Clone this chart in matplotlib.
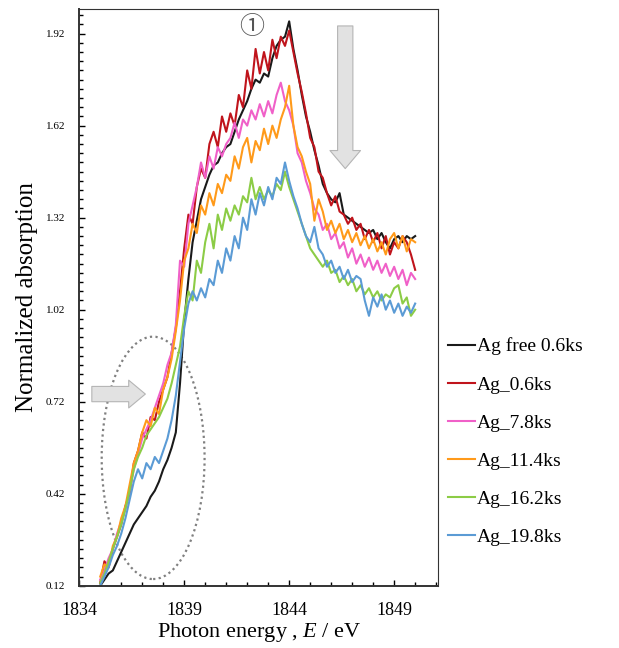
import numpy as np
import matplotlib
matplotlib.use('Agg')
import matplotlib.pyplot as plt
from matplotlib.patches import Ellipse
from matplotlib.ticker import MultipleLocator, FixedLocator

plt.rcParams['font.family'] = ['Liberation Serif', 'DejaVu Serif']
plt.rcParams['mathtext.fontset'] = 'custom'
plt.rcParams['mathtext.it'] = 'Liberation Serif:italic'
plt.rcParams['mathtext.rm'] = 'Liberation Serif'

# photon energy grid (eV), 0.2 eV step
energia = np.linspace(1835.0, 1850.0, 76)

ag_free_06 = [0.12, 0.14, 0.16, 0.17, 0.20, 0.23, 0.26, 0.29, 0.32, 0.34,
              0.36, 0.38, 0.41, 0.43, 0.46, 0.50, 0.53, 0.57, 0.62, 0.78,
              0.98, 1.12, 1.24, 1.31, 1.38, 1.42, 1.46, 1.49, 1.50, 1.53,
              1.55, 1.56, 1.60, 1.64, 1.67, 1.70, 1.74, 1.77, 1.76, 1.79,
              1.78, 1.84, 1.88, 1.90, 1.91, 1.96, 1.87, 1.80, 1.72, 1.65,
              1.60, 1.54, 1.49, 1.43, 1.40, 1.38, 1.37, 1.40, 1.33, 1.32,
              1.31, 1.30, 1.29, 1.28, 1.27, 1.28, 1.25, 1.27, 1.24, 1.22,
              1.25, 1.26, 1.24, 1.26, 1.25, 1.26]

ag_06 = [0.13, 0.20, 0.18, 0.24, 0.28, 0.32, 0.38, 0.42, 0.52, 0.56,
         0.62, 0.60, 0.67, 0.66, 0.72, 0.76, 0.80, 0.88, 0.96, 1.08,
         1.22, 1.33, 1.30, 1.42, 1.48, 1.45, 1.56, 1.60, 1.55, 1.65,
         1.60, 1.66, 1.62, 1.72, 1.68, 1.80, 1.74, 1.87, 1.79, 1.86,
         1.80, 1.90, 1.84, 1.91, 1.88, 1.93, 1.86, 1.79, 1.73, 1.66,
         1.58, 1.55, 1.47, 1.45, 1.40, 1.36, 1.39, 1.34, 1.33, 1.30,
         1.32, 1.28, 1.30, 1.25, 1.28, 1.24, 1.27, 1.22, 1.26, 1.20,
         1.24, 1.22, 1.26, 1.24, 1.20, 1.15]

ag_78 = [0.14, 0.17, 0.21, 0.24, 0.29, 0.33, 0.37, 0.43, 0.50, 0.55,
         0.60, 0.63, 0.66, 0.70, 0.74, 0.78, 0.84, 0.88, 0.97, 1.18,
         1.16, 1.30, 1.36, 1.42, 1.50, 1.45, 1.52, 1.48, 1.55, 1.52,
         1.56, 1.58, 1.63, 1.58, 1.64, 1.62, 1.67, 1.64, 1.69, 1.65,
         1.70, 1.66, 1.72, 1.76, 1.70, 1.67, 1.62, 1.53, 1.50, 1.44,
         1.40, 1.35, 1.33, 1.28, 1.30, 1.25, 1.27, 1.22, 1.24, 1.19,
         1.22, 1.17, 1.20, 1.16, 1.19, 1.15, 1.18, 1.14, 1.17, 1.13,
         1.16, 1.12, 1.15, 1.10, 1.14, 1.12]

ag_114 = [0.15, 0.19, 0.18, 0.25, 0.28, 0.34, 0.38, 0.45, 0.52, 0.56,
          0.62, 0.66, 0.64, 0.70, 0.68, 0.76, 0.80, 0.86, 0.95, 1.05,
          1.18, 1.22, 1.30, 1.27, 1.36, 1.33, 1.40, 1.36, 1.43, 1.40,
          1.46, 1.44, 1.52, 1.48, 1.55, 1.58, 1.50, 1.57, 1.54, 1.61,
          1.56, 1.62, 1.58, 1.64, 1.68, 1.75, 1.62, 1.55, 1.52, 1.47,
          1.43, 1.31, 1.38, 1.34, 1.28, 1.31, 1.27, 1.30, 1.25, 1.28,
          1.24, 1.27, 1.23, 1.26, 1.22, 1.25, 1.21, 1.24, 1.20, 1.25,
          1.27, 1.22, 1.26, 1.21, 1.25, 1.24]

ag_162 = [0.13, 0.16, 0.20, 0.24, 0.28, 0.32, 0.37, 0.43, 0.50, 0.54,
          0.57, 0.61, 0.63, 0.65, 0.67, 0.70, 0.73, 0.78, 0.84, 0.90,
          1.00, 1.08, 1.05, 1.18, 1.14, 1.24, 1.30, 1.22, 1.33, 1.28,
          1.35, 1.31, 1.36, 1.33, 1.39, 1.37, 1.45, 1.38, 1.42, 1.38,
          1.41, 1.39, 1.43, 1.41, 1.47, 1.42, 1.38, 1.34, 1.30, 1.26,
          1.22, 1.20, 1.18, 1.16, 1.18, 1.14, 1.15, 1.11, 1.13, 1.10,
          1.12, 1.08, 1.10, 1.07, 1.09, 1.06, 1.08, 1.05, 1.07, 1.06,
          1.09, 1.10, 1.04, 1.06, 1.00, 1.02]

ag_198 = [0.12, 0.15, 0.18, 0.22, 0.25, 0.29, 0.34, 0.40, 0.46, 0.50,
          0.47, 0.52, 0.50, 0.54, 0.52, 0.56, 0.60, 0.66, 0.74, 0.85,
          0.96, 1.04, 1.08, 1.05, 1.09, 1.06, 1.12, 1.10, 1.18, 1.14,
          1.22, 1.18, 1.26, 1.22, 1.32, 1.28, 1.38, 1.33, 1.40, 1.36,
          1.42, 1.38, 1.45, 1.43, 1.50, 1.44, 1.39, 1.35, 1.30, 1.26,
          1.24, 1.29, 1.22, 1.20, 1.16, 1.18, 1.14, 1.16, 1.12, 1.15,
          1.11, 1.13, 1.12, 1.05, 1.00, 1.06, 1.03, 1.07, 1.02, 1.05,
          1.01, 1.04, 1.00, 1.03, 1.01, 1.04]

series = [ag_free_06, ag_06, ag_78, ag_114, ag_162, ag_198]
nombres = ['Ag free 0.6ks', 'Ag_0.6ks', 'Ag_7.8ks', 'Ag_11.4ks', 'Ag_16.2ks', 'Ag_19.8ks']
colores = ['#1a1a1a', '#c0141c', '#f060c8', '#ff9a1a', '#8ccc46', '#5b9bd5']

fig = plt.figure(figsize=(6.19, 6.48), dpi=100)
ax = fig.add_axes([0.128, 0.096, 0.58, 0.890])

for datos, nombre, color in zip(series, nombres, colores):
    ax.plot(energia, datos, color=color, lw=1.5, label=nombre)

ax.set_xlim(1834, 1851.1)
ax.set_ylim(0.12, 2.0)
ax.xaxis.set_major_locator(FixedLocator([1834, 1839, 1844, 1849]))
ax.xaxis.set_minor_locator(MultipleLocator(1))
ax.set_yticks([0.12, 0.42, 0.72, 1.02, 1.32, 1.62, 1.92])
ax.yaxis.set_minor_locator(MultipleLocator(0.03))
ax.tick_params(which='both', direction='in', width=1)
ax.tick_params(which='major', length=4)
ax.tick_params(which='minor', length=3)
ax.tick_params(axis='x', labelsize=13, pad=12)
ax.tick_params(axis='y', labelsize=8, pad=10)
for s in ax.spines.values():
    s.set_color('#333333')
ax.spines['left'].set_linewidth(1.4)
ax.spines['bottom'].set_linewidth(1.4)

ax.set_xlabel('Photon energy , $E$ / eV', fontsize=16, labelpad=1)
ax.set_ylabel('Normalized absorption', fontsize=18, labelpad=6)

# annotations
ax.text(1842.2, 1.94, '\u2460', fontsize=18, color='#555555', ha='center', va='center',
        family=['Noto Sans CJK JP', 'DejaVu Sans'])
ax.annotate('', xy=(1846.67, 1.48), xytext=(1846.67, 1.945),
            arrowprops=dict(arrowstyle='simple,head_length=1.3,head_width=2.2,tail_width=1.1',
                            mutation_scale=10, fc='#e2e2e2', ec='#b5b5b5', lw=0.8,
                            shrinkA=0, shrinkB=0))
ax.annotate('', xy=(1837.15, 0.745), xytext=(1834.6, 0.745),
            arrowprops=dict(arrowstyle='simple,head_length=1.2,head_width=2.0,tail_width=1.1',
                            mutation_scale=10, fc='#e2e2e2', ec='#b5b5b5', lw=0.8,
                            shrinkA=0, shrinkB=0))
ax.add_patch(Ellipse((1837.52, 0.537), 4.9, 0.79, fill=False, ec='#808080',
                     lw=1.6, ls=(0, (1, 1.5))))

leg = ax.legend(loc='center left', bbox_to_anchor=(1.005, 0.25), frameon=False,
                fontsize=14, handlelength=1.4, handletextpad=0.1,
                labelspacing=1.05, borderaxespad=0)

plt.savefig('out.png', dpi=100)
